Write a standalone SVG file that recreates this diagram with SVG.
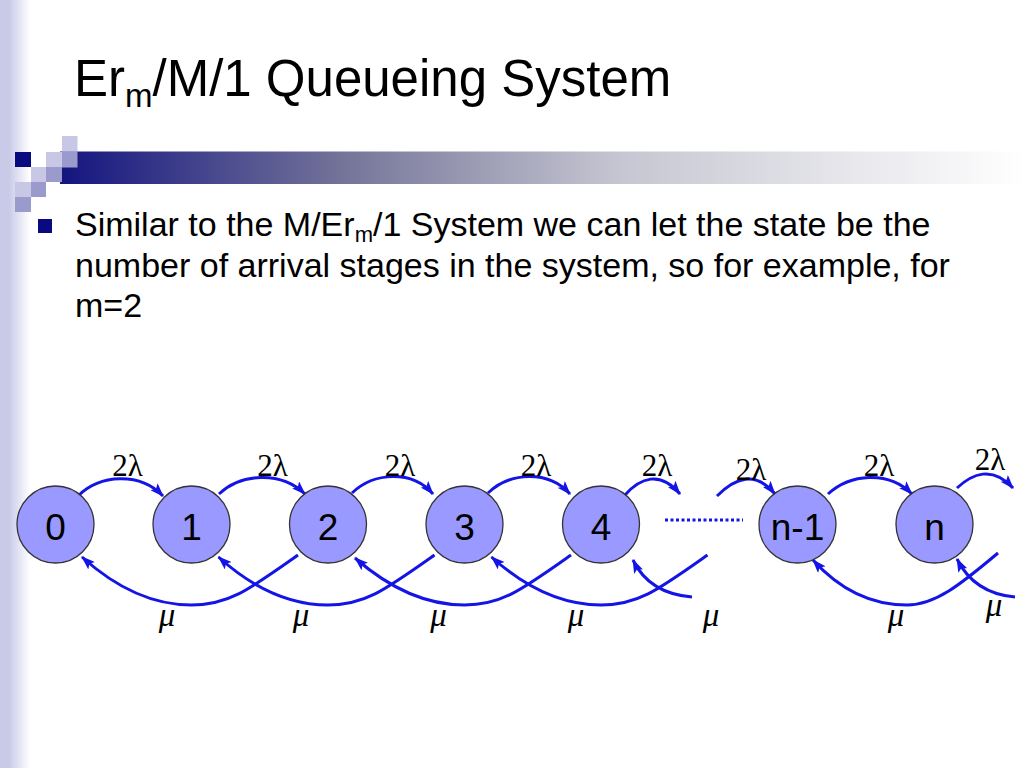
<svg xmlns="http://www.w3.org/2000/svg" width="1024" height="768" viewBox="0 0 1024 768">
<defs>
<linearGradient id="strip" x1="0" y1="0" x2="1" y2="0">
<stop offset="0" stop-color="#c8c8e8"/>
<stop offset="0.3" stop-color="#cacae8"/>
<stop offset="1" stop-color="#ffffff"/>
</linearGradient>
<linearGradient id="bar" x1="0" y1="0" x2="1" y2="0">
<stop offset="0" stop-color="#141480"/>
<stop offset="0.3" stop-color="#76769a"/>
<stop offset="0.58" stop-color="#c6c6d2"/>
<stop offset="1" stop-color="#ffffff"/>
</linearGradient>
<marker id="ah" viewBox="0 0 14 10" refX="13" refY="5" markerWidth="14" markerHeight="10" markerUnits="userSpaceOnUse" orient="auto">
<path d="M0,0 L14,5 L0,10 L3,5 z" fill="#1414e6"/>
</marker>
<style>
.title{font-family:"Liberation Sans",Arial,sans-serif;font-size:51px;fill:#000}
.body{font-family:"Liberation Sans",Arial,sans-serif;font-size:34px;fill:#000}
.node circle{fill:#9999ff;stroke:#333;stroke-width:1.3}
.node text{font-family:"Liberation Sans",Arial,sans-serif;font-size:37px;fill:#000;text-anchor:middle}
.arc{fill:none;stroke:#1414e6;stroke-width:3;marker-end:url(#ah)}
.lam{font-family:"Liberation Serif","Times New Roman",serif;font-size:31px;fill:#000;text-anchor:middle}
.mu{font-family:"Liberation Serif","Times New Roman",serif;font-style:italic;font-size:33px;fill:#000;text-anchor:middle}
.lt{fill:#c8c8e6}.md{fill:#9a9acc}.dk{fill:#0a0a80}
</style>
</defs>
<rect width="1024" height="768" fill="#ffffff"/>
<rect x="0" y="0" width="30" height="768" fill="url(#strip)"/>

<g id="decoration">
<rect x="60" y="151.5" width="964" height="32.5" fill="url(#bar)"/>
<rect class="lt" x="62" y="136" width="15.5" height="15.5"/>
<rect class="dk" x="15" y="152" width="16" height="15"/>
<rect class="lt" x="46" y="152" width="16" height="15"/>
<rect class="md" x="62" y="151.5" width="15.5" height="16"/>
<rect class="lt" x="31" y="167" width="15" height="15"/>
<rect class="md" x="46" y="167" width="16" height="15"/>
<rect class="lt" x="15" y="182" width="16" height="15"/>
<rect class="md" x="31" y="182" width="15" height="15"/>
<rect class="md" x="15" y="197" width="16" height="15"/>
</g>

<g id="title">
<text class="title" x="74" y="96">Er<tspan font-size="33" dy="11">m</tspan><tspan dy="-11">/M/1 Queueing System</tspan></text>
</g>

<g id="bullet">
<rect class="dk" x="38" y="219" width="14" height="14"/>
<text class="body" x="75" y="236">Similar to the M/Er<tspan font-size="22" dy="6">m</tspan><tspan dy="-6">/1 System we can let the state be the</tspan></text>
<text class="body" x="75" y="277">number of arrival stages in the system, so for example, for</text>
<text class="body" x="75" y="317">m=2</text>
</g>

<g id="connectors">
<path class="arc" d="M78,496 C100,474 140,472 163,496"/>
<path class="arc" d="M219,494 C240,474 280,470 305,494"/>
<path class="arc" d="M352,493 C374,472 412,470 433,494"/>
<path class="arc" d="M488,493 C510,472 548,470 570,494"/>
<path class="arc" d="M625,495 C640,478 660,470 680,494"/>
<path class="arc" d="M717,496 C735,478 755,470 775,494"/>
<path class="arc" d="M828,494 C850,474 888,470 912,494"/>
<path class="arc" d="M957,488 C972,474 992,465 1013,488"/>

<path class="arc" d="M298,555 C248.5,590 228.5,605 191.5,605 C153.5,605 118.5,590 82,557"/>
<path class="arc" d="M434.5,555 C385,590 365,605 328,605 C290,605 255,590 218.5,557"/>
<path class="arc" d="M571,555 C521.5,590 501.5,605 464.5,605 C426.5,605 391.5,590 355,558"/>
<path class="arc" d="M707.5,555 C658,590 638,605 601,605 C563,605 528,590 491.5,557"/>
<path class="arc" d="M692,597 C668,595 645,585 633,560"/>
<path class="arc" d="M998,553 C960,585 935,605 907,605 C870,605 840,590 813,560"/>
<path class="arc" d="M1015,597 C992,595 970,585 957,559"/>
<line x1="665" y1="520" x2="743" y2="520" stroke="#1414e6" stroke-width="3" stroke-dasharray="3,2.5"/>
</g>

<g id="node0" class="node"><circle cx="55.5" cy="524.5" r="38.5"/><text x="55.5" y="540">0</text></g>
<g id="node1" class="node"><circle cx="191.5" cy="524.5" r="38.5"/><text x="191.5" y="540">1</text></g>
<g id="node2" class="node"><circle cx="328" cy="524.5" r="38.5"/><text x="328" y="540">2</text></g>
<g id="node3" class="node"><circle cx="464.5" cy="524.5" r="38.5"/><text x="464.5" y="540">3</text></g>
<g id="node4" class="node"><circle cx="601" cy="524.5" r="38.5"/><text x="601" y="540">4</text></g>
<g id="nodeN1" class="node"><circle cx="797.5" cy="524.5" r="38.5"/><text x="797.5" y="540">n-1</text></g>
<g id="nodeN" class="node"><circle cx="934.5" cy="524.5" r="38.5"/><text x="934.5" y="540">n</text></g>

<g id="labels">
<text class="lam" x="127.5" y="476">2λ</text>
<text class="lam" x="272.5" y="476">2λ</text>
<text class="lam" x="400" y="476">2λ</text>
<text class="lam" x="536" y="476">2λ</text>
<text class="lam" x="657" y="476">2λ</text>
<text class="lam" x="751" y="480">2λ</text>
<text class="lam" x="879" y="476">2λ</text>
<text class="lam" x="990" y="470">2λ</text>
<text class="mu" x="167" y="626">μ</text>
<text class="mu" x="301" y="626">μ</text>
<text class="mu" x="438.5" y="626">μ</text>
<text class="mu" x="576" y="626">μ</text>
<text class="mu" x="711" y="626">μ</text>
<text class="mu" x="896" y="626">μ</text>
<text class="mu" x="994" y="616">μ</text>
</g>
</svg>
